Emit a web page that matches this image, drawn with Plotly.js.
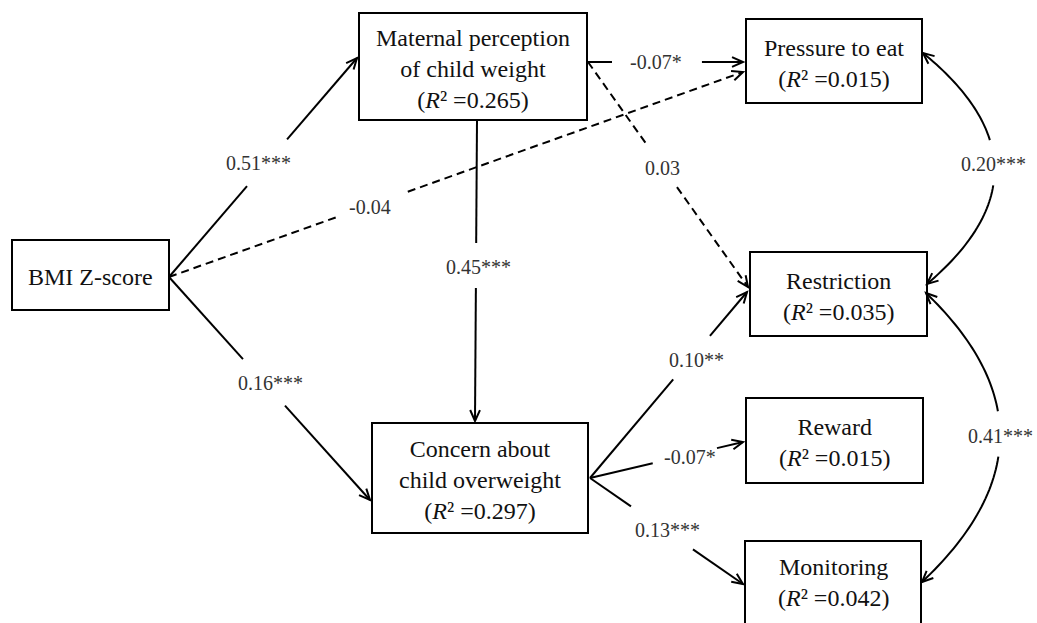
<!DOCTYPE html>
<html>
<head>
<meta charset="utf-8">
<script src="https://cdn.plot.ly/plotly-3.0.1.min.js"></script>
<style>html,body{margin:0;padding:0;background:#fff;}#chart{width:1037px;height:623px;}</style>
</head>
<body>
<div id="chart"></div>
<script>
// ---- data ----
const nodeIds   = ['bmi', 'mat', 'pre', 'res', 'con', 'rew', 'mon'];
const nodeNames = ['BMI Z-score', 'Maternal perception<br>of child weight', 'Pressure to eat',
                   'Restriction', 'Concern about<br>child overweight', 'Reward', 'Monitoring'];
const nodeR2    = [null, 0.265, 0.015, 0.035, 0.297, 0.015, 0.042];

const pathFrom  = ['bmi', 'bmi', 'bmi', 'mat', 'mat', 'mat', 'con', 'con', 'con'];
const pathTo    = ['mat', 'pre', 'con', 'con', 'pre', 'res', 'res', 'rew', 'mon'];
const pathBeta  = [0.51, -0.04, 0.16, 0.45, -0.07, 0.03, 0.10, -0.07, 0.13];
const pathStars = ['***', '', '***', '***', '*', '', '**', '*', '***'];

const covFrom   = ['pre', 'res'];
const covTo     = ['res', 'mon'];
const covBeta   = [0.20, 0.41];
const covStars  = ['***', '***'];

// ---- layout geometry (pixel space of the figure) ----
const W = 1037, H = 623;
const boxes = {
  bmi: [12, 240, 169, 310],
  mat: [359, 13, 587, 120],
  pre: [746, 19, 922, 103],
  res: [750, 252, 927, 336],
  con: [372, 423, 588, 533],
  rew: [746, 398, 923, 483],
  mon: [745, 541, 921, 628]
};
// start point, end point, label point, gap [t0,t1] for each path
const pathGeom = [
  {s: [169, 277], e: [357, 58],  l: [258, 163], g: [0.415, 0.628]},
  {s: [169, 277], e: [743, 72],  l: [370, 207], g: [0.292, 0.416]},
  {s: [169, 277], e: [370, 500], l: [270, 383], g: [0.368, 0.577]},
  {s: [477, 120], e: [475, 421], l: [478, 267], g: [0.409, 0.558]},
  {s: [588, 62],  e: [743, 62],  l: [656, 62],  g: [0.155, 0.735]},
  {s: [588, 62],  e: [748, 287], l: [662, 168], g: [0.37, 0.556]},
  {s: [590, 478], e: [747, 292], l: [696, 360], g: [0.53, 0.764]},
  {s: [590, 478], e: [743, 442], l: [690, 457], g: [0.41, 0.83]},
  {s: [590, 478], e: [743, 584], l: [667, 530], g: [0.268, 0.673]}
];
const covGeom = [
  {s: [923, 53],  e: [927, 284], c: [1064, 168], l: [993, 164], g: [0.378, 0.574]},
  {s: [926, 293], e: [922, 582], c: [1076, 437], l: [1000, 436], g: [0.41, 0.567]}
];

const serif = 'Liberation Serif, Times New Roman, serif';
const LW = 2;
const shapes = [];
const annotations = [];

function fmt(v) { return (v < 0 ? '-' : '') + Math.abs(v).toFixed(2); }

// boxes and node texts
nodeIds.forEach((id, i) => {
  const b = boxes[id];
  shapes.push({type: 'rect', xref: 'x', yref: 'y', x0: b[0], y0: b[1], x1: b[2], y1: b[3],
               line: {color: '#000', width: LW}, fillcolor: 'rgba(0,0,0,0)'});
  let txt = nodeNames[i];
  if (nodeR2[i] !== null) txt += '<br>(<i>R</i>\u00B2 =' + nodeR2[i].toFixed(3) + ')';
  const cy = id === 'mon' ? 582 : (b[1] + b[3]) / 2 + 2;
  annotations.push({xref: 'x', yref: 'y', x: (b[0] + b[2]) / 2, y: cy, text: txt,
                    showarrow: false, xanchor: 'center', yanchor: 'middle',
                    font: {family: serif, size: 24, color: '#111'}});
});

function arrowHead(tip, dx, dy) {
  const len = Math.hypot(dx, dy); const ux = dx / len, uy = dy / len;
  const L = 12, a = 0.42;
  const ca = Math.cos(a), sa = Math.sin(a);
  const w1 = [tip[0] - L * (ux * ca - uy * sa), tip[1] - L * (uy * ca + ux * sa)];
  const w2 = [tip[0] - L * (ux * ca + uy * sa), tip[1] - L * (uy * ca - ux * sa)];
  return `M${w1[0]},${w1[1]} L${tip[0]},${tip[1]} L${w2[0]},${w2[1]}`;
}
const lerp = (p, q, t) => [p[0] + (q[0] - p[0]) * t, p[1] + (q[1] - p[1]) * t];

// directed paths
pathFrom.forEach((f, i) => {
  const G = pathGeom[i];
  const sig = pathStars[i] !== '';
  const dash = sig ? 'solid' : '8px,5px';
  const a = lerp(G.s, G.e, G.g[0]), b = lerp(G.s, G.e, G.g[1]);
  shapes.push({type: 'line', xref: 'x', yref: 'y', x0: G.s[0], y0: G.s[1], x1: a[0], y1: a[1],
               line: {color: '#000', width: LW, dash: dash}});
  shapes.push({type: 'line', xref: 'x', yref: 'y', x0: b[0], y0: b[1], x1: G.e[0], y1: G.e[1],
               line: {color: '#000', width: LW, dash: dash}});
  shapes.push({type: 'path', xref: 'x', yref: 'y',
               path: arrowHead(G.e, G.e[0] - G.s[0], G.e[1] - G.s[1]),
               line: {color: '#000', width: LW}});
  annotations.push({xref: 'x', yref: 'y', x: G.l[0], y: G.l[1], text: fmt(pathBeta[i]) + pathStars[i],
                    showarrow: false, xanchor: 'center', yanchor: 'middle',
                    font: {family: serif, size: 20, color: '#333'}});
});

// covariances (curved, double-headed)
function quad(p0, c, p1, t) {
  const u = 1 - t;
  return [u * u * p0[0] + 2 * u * t * c[0] + t * t * p1[0], u * u * p0[1] + 2 * u * t * c[1] + t * t * p1[1]];
}
function curvePath(G, t0, t1) {
  let d = '';
  const n = 30;
  for (let k = 0; k <= n; k++) {
    const t = t0 + (t1 - t0) * k / n;
    const p = quad(G.s, G.c, G.e, t);
    d += (k === 0 ? 'M' : ' L') + p[0].toFixed(2) + ',' + p[1].toFixed(2);
  }
  return d;
}
covFrom.forEach((f, i) => {
  const G = covGeom[i];
  shapes.push({type: 'path', xref: 'x', yref: 'y', path: curvePath(G, 0, G.g[0]), line: {color: '#000', width: LW}});
  shapes.push({type: 'path', xref: 'x', yref: 'y', path: curvePath(G, G.g[1], 1), line: {color: '#000', width: LW}});
  shapes.push({type: 'path', xref: 'x', yref: 'y', path: arrowHead(G.s, G.s[0] - G.c[0], G.s[1] - G.c[1]),
               line: {color: '#000', width: LW}});
  shapes.push({type: 'path', xref: 'x', yref: 'y', path: arrowHead(G.e, G.e[0] - G.c[0], G.e[1] - G.c[1]),
               line: {color: '#000', width: LW}});
  annotations.push({xref: 'x', yref: 'y', x: G.l[0], y: G.l[1], text: fmt(covBeta[i]) + covStars[i],
                    showarrow: false, xanchor: 'center', yanchor: 'middle',
                    font: {family: serif, size: 20, color: '#333'}});
});

const layout = {
  width: W, height: H,
  margin: {l: 0, r: 0, t: 0, b: 0, pad: 0},
  paper_bgcolor: '#fff', plot_bgcolor: '#fff',
  showlegend: false,
  font: {family: serif, size: 20, color: '#111'},
  xaxis: {range: [0, W], visible: false, fixedrange: true},
  yaxis: {range: [H, 0], visible: false, fixedrange: true},
  shapes: shapes,
  annotations: annotations
};
Plotly.newPlot('chart', [{x: [], y: [], type: 'scatter', mode: 'markers', hoverinfo: 'skip'}], layout,
               {displayModeBar: false});
</script>
</body>
</html>
